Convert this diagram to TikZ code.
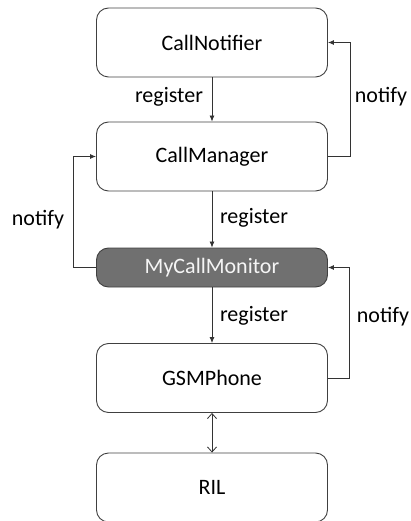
\documentclass[tikz,border=0pt]{standalone}
\usepackage{fontspec}
\setmainfont{Carlito}
\usetikzlibrary{arrows.meta}

\begin{document}
\begin{tikzpicture}[x=1pt,y=1pt]
\tikzset{
	block node/.style = {draw = black!75, line width = 0.9, rounded corners = 12, minimum width = 231, minimum height = 69, font = \fontsize{22}{25}\selectfont},
	monitor node/.style = {block node, minimum height = 39, fill = black!56, text = black!4},
	word node/.style = {font = \fontsize{22}{25}\selectfont},
	link/.style = {draw = black!80, line width = 0.8, -{Latex[length = 6, width = 5]}},
	both link/.style = {draw = black!80, line width = 0.8, {Straight Barb[length = 5, width = 9]}-{Straight Barb[length = 5, width = 9]}}
}
\useasboundingbox (0,0) rectangle (411,-521);
\node(notifier)[block node] at (212,-42.5){CallNotifier};
\node(manager)[block node] at (212,-156.5){CallManager};
\node(monitor)[monitor node] at (212,-267.5){MyCallMonitor};
\node(phone)[block node] at (212,-378){GSMPhone};
\node(ril)[block node] at (212,-487.5){RIL};
\draw[link] (notifier) -- (manager);
\draw[link] (manager) -- (monitor);
\draw[link] (monitor) -- (phone);
\draw[both link] (phone) -- (ril);
\draw[link] (manager.east) -- ++(22,0) |- (notifier.east);
\draw[link] (monitor.west) -- ++(-23,0) |- (manager.west);
\draw[link] (phone.east) -- ++(21,0) |- (monitor.east);
\node(reg1)[word node] at (169,-97){register};
\node(reg2)[word node] at (254,-218){register};
\node(reg3)[word node] at (254,-316){register};
\node(note1)[word node] at (381,-97){notify};
\node(note2)[word node] at (38,-220){notify};
\node(note3)[word node] at (383,-317){notify};
\end{tikzpicture}
\end{document}
